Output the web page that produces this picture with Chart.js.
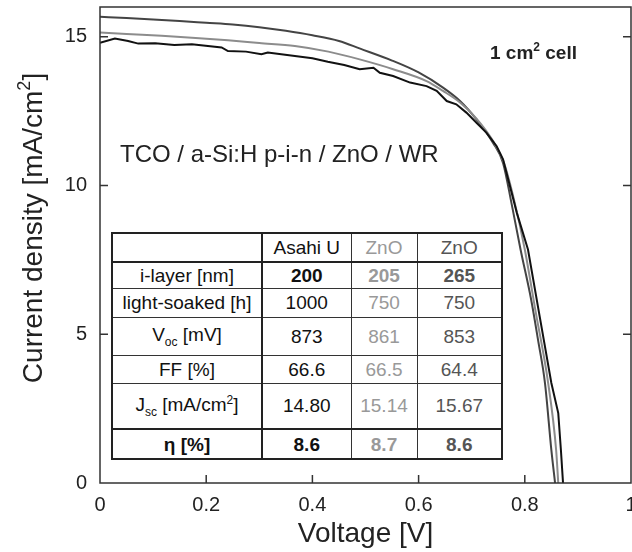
<!DOCTYPE html>
<html>
<head>
<meta charset="utf-8">
<script src="https://cdn.jsdelivr.net/npm/chart.js@4.4.1/dist/chart.umd.min.js"></script>
<style>
    body { margin: 0; background: #fff; }
    #wrap { position: relative; width: 632px; height: 552px; }
    #cellTable {
        position: absolute;
        left: 111px;
        top: 232px;
        border-collapse: collapse;
        table-layout: fixed;
        width: 390px;
        background: #fff;
        border: 2px solid #222;
        font: 19px "Liberation Sans", Arial, sans-serif;
        color: #111;
    }
    #cellTable td {
        border: 1px solid #333;
        text-align: center;
        padding: 0;
        line-height: 1;
        white-space: nowrap;
    }
    #cellTable td:first-child { border-right: 2px solid #222; }
    #cellTable tr.head td { border-bottom: 2px solid #222; }
    #cellTable tr.eta td { border-top: 2px solid #222; font-weight: bold; }
    #cellTable tr.bold td { font-weight: bold; }
    #cellTable td.c1 { color: #111; }
    #cellTable td.c2 { color: #999; }
    #cellTable td.c3 { color: #555; }
    #cellTable sub { font-size: 12px; vertical-align: -5px; }
    #cellTable sup { font-size: 12px; vertical-align: 7px; }
</style>
</head>
<body>
<div id="wrap">
    <canvas id="ivChart" width="632" height="552"></canvas>
    <table id="cellTable">
        <colgroup><col style="width:150px"><col style="width:89px"><col style="width:66px"><col style="width:85px"></colgroup>
        <tr class="head" style="height:29px"><td></td><td class="c1">Asahi U</td><td class="c2">ZnO</td><td class="c3">ZnO</td></tr>
        <tr class="bold" style="height:26px"><td style="font-weight:normal">i-layer [nm]</td><td class="c1">200</td><td class="c2">205</td><td class="c3">265</td></tr>
        <tr style="height:29px"><td>light-soaked [h]</td><td class="c1">1000</td><td class="c2">750</td><td class="c3">750</td></tr>
        <tr style="height:38px"><td>V<sub>oc</sub> [mV]</td><td class="c1">873</td><td class="c2">861</td><td class="c3">853</td></tr>
        <tr style="height:28px"><td>FF [%]</td><td class="c1">66.6</td><td class="c2">66.5</td><td class="c3">64.4</td></tr>
        <tr style="height:46px"><td>J<sub>sc</sub> [mA/cm<sup>2</sup>]</td><td class="c1">14.80</td><td class="c2">15.14</td><td class="c3">15.67</td></tr>
        <tr class="eta" style="height:30px"><td>η [%]</td><td class="c1">8.6</td><td class="c2">8.7</td><td class="c3">8.6</td></tr>
    </table>
</div>
<script>
// J-V curves
const voltage200 = [0, 0.028, 0.053, 0.072, 0.104, 0.14, 0.173, 0.229, 0.241, 0.275, 0.304, 0.316, 0.367, 0.4, 0.429, 0.46, 0.489, 0.515, 0.527, 0.552, 0.584, 0.615, 0.634, 0.653, 0.671, 0.69, 0.709, 0.728, 0.747, 0.759, 0.785, 0.806, 0.828, 0.85, 0.863, 0.868, 0.872];
const current200 = [14.80, 14.94, 14.86, 14.77, 14.78, 14.72, 14.75, 14.64, 14.52, 14.50, 14.41, 14.47, 14.35, 14.28, 14.16, 14.05, 13.91, 13.96, 13.79, 13.68, 13.46, 13.34, 13.18, 12.84, 12.73, 12.45, 12.11, 11.77, 11.32, 10.88, 9.08, 7.85, 5.6, 3.36, 2.35, 1.11, 0];

const voltage205 = [0, 0.05, 0.116, 0.18, 0.241, 0.3, 0.367, 0.43, 0.489, 0.552, 0.615, 0.646, 0.678, 0.709, 0.74, 0.76, 0.78, 0.8, 0.82, 0.844, 0.859, 0.863];
const current205 = [15.14, 15.09, 15.03, 14.96, 14.88, 14.79, 14.69, 14.50, 14.24, 13.91, 13.51, 13.18, 12.79, 12.25, 11.5, 10.8, 9.5, 7.85, 5.8, 3.36, 1.11, 0];

const voltage265 = [0, 0.05, 0.1, 0.15, 0.2, 0.25, 0.3, 0.35, 0.4, 0.45, 0.49, 0.55, 0.6, 0.646, 0.678, 0.709, 0.74, 0.759, 0.775, 0.792, 0.812, 0.825, 0.838, 0.85, 0.857];
const current265 = [15.67, 15.63, 15.58, 15.53, 15.47, 15.41, 15.32, 15.20, 15.05, 14.86, 14.6, 14.2, 13.8, 13.29, 12.84, 12.22, 11.44, 10.76, 9.4, 7.85, 6.16, 4.8, 3.36, 1.11, 0];

const xTickValues = [0, 0.2, 0.4, 0.6, 0.8, 1];
const yTickValues = [0, 5, 10, 15];

const FONT = '"Liberation Sans", Arial, sans-serif';

function toPoints(xs, ys) {
    return xs.map((x, i) => ({x: x, y: ys[i]}));
}

// draws a row of text pieces, some of them raised as superscript
function drawPieces(ctx, pieces, x, y, align) {
    let total = 0;
    pieces.forEach(p => {
        ctx.font = p.font;
        p.w = ctx.measureText(p.text).width;
        total += p.w;
    });
    let cx = align === 'center' ? x - total / 2 : x;
    pieces.forEach(p => {
        ctx.font = p.font;
        ctx.fillText(p.text, cx, y - (p.rise || 0));
        cx += p.w;
    });
}

const framePlugin = {
    id: 'frame',
    afterDraw(chart) {
        const ctx = chart.ctx;
        const area = chart.chartArea;
        const xs = chart.scales.x;
        const ys = chart.scales.y;
        ctx.save();

        // box round the plot
        ctx.strokeStyle = '#333';
        ctx.lineWidth = 1.5;
        ctx.strokeRect(area.left, area.top, area.right - area.left, area.bottom - area.top);

        // inward ticks
        ctx.beginPath();
        xTickValues.slice(1, -1).forEach(v => {
            const px = xs.getPixelForValue(v);
            ctx.moveTo(px, area.bottom);
            ctx.lineTo(px, area.bottom - 8);
        });
        yTickValues.slice(1).forEach(v => {
            const py = ys.getPixelForValue(v);
            ctx.moveTo(area.left, py);
            ctx.lineTo(area.left + 8, py);
            ctx.moveTo(area.right, py);
            ctx.lineTo(area.right - 8, py);
        });
        ctx.stroke();

        ctx.fillStyle = '#222';
        ctx.textBaseline = 'alphabetic';
        ctx.textAlign = 'left';

        // y axis title
        ctx.save();
        ctx.translate(42, 228);
        ctx.rotate(-Math.PI / 2);
        drawPieces(ctx, [
            {text: 'Current density [mA/cm', font: '28px ' + FONT},
            {text: '2', font: '18px ' + FONT, rise: 12},
            {text: ']', font: '28px ' + FONT}
        ], 0, 0, 'center');
        ctx.restore();

        // labels inside the plot
        drawPieces(ctx, [
            {text: 'TCO / a-Si:H p-i-n / ZnO / WR', font: '24px ' + FONT}
        ], 120, 162, 'left');
        drawPieces(ctx, [
            {text: '1 cm', font: 'bold 19px ' + FONT},
            {text: '2', font: 'bold 12px ' + FONT, rise: 8},
            {text: ' cell', font: 'bold 19px ' + FONT}
        ], 490, 59, 'left');

        ctx.restore();
    }
};

const ctx = document.getElementById('ivChart').getContext('2d');

new Chart(ctx, {
    type: 'line',
    data: {
        datasets: [{
            label: 'Asahi U, 200 nm',
            data: toPoints(voltage200, current200),
            borderColor: '#111',
            borderWidth: 2,
            tension: 0
        }, {
            label: 'ZnO, 205 nm',
            data: toPoints(voltage205, current205),
            borderColor: '#8c8c8c',
            borderWidth: 2,
            cubicInterpolationMode: 'monotone'
        }, {
            label: 'ZnO, 265 nm',
            data: toPoints(voltage265, current265),
            borderColor: '#444',
            borderWidth: 2,
            cubicInterpolationMode: 'monotone'
        }]
    },
    options: {
        responsive: false,
        animation: false,
        elements: { point: { radius: 0 } },
        layout: { padding: { top: 7, right: 1, left: 0, bottom: 0 } },
        plugins: {
            legend: { display: false },
            tooltip: { enabled: false }
        },
        scales: {
            x: {
                type: 'linear',
                min: 0,
                max: 1,
                afterFit: scale => {
                    scale.height = 69;
                    scale.paddingLeft = 0;
                    scale.paddingRight = 0;
                },
                afterBuildTicks: scale => { scale.ticks = xTickValues.map(v => ({value: v})); },
                grid: { display: false, drawTicks: false },
                border: { display: false },
                ticks: {
                    padding: 10,
                    color: '#222',
                    font: { family: FONT, size: 20 },
                    maxRotation: 0,
                    callback: v => String(v)
                },
                title: {
                    display: true,
                    text: 'Voltage [V]',
                    color: '#222',
                    font: { family: FONT, size: 28 },
                    padding: { top: 0, bottom: 1 }
                }
            },
            y: {
                min: 0,
                max: 16,
                afterFit: scale => {
                    scale.width = 100;
                    scale.paddingTop = 0;
                    scale.paddingBottom = 0;
                },
                afterBuildTicks: scale => { scale.ticks = yTickValues.map(v => ({value: v})); },
                grid: { display: false, drawTicks: false },
                border: { display: false },
                ticks: {
                    padding: 13,
                    color: '#222',
                    font: { family: FONT, size: 20 },
                    callback: v => String(v)
                }
            }
        }
    },
    plugins: [framePlugin]
});
</script>
</body>
</html>
